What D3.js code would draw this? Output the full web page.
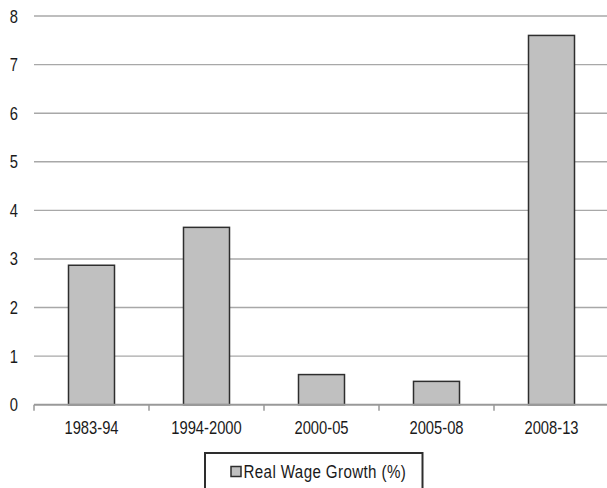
<!DOCTYPE html>
<html>
<head>
<meta charset="utf-8">
<script src="https://cdn.jsdelivr.net/npm/d3@7"></script>
<style>
  html, body { margin: 0; padding: 0; background: #fff; }
  svg { display: block; }
</style>
</head>
<body>
<svg id="chart" width="607" height="488"></svg>
<script>
const categories = ["1983-94", "1994-2000", "2000-05", "2005-08", "2008-13"];
const values = [2.87, 3.65, 0.62, 0.48, 7.6];
const yTicks = [0, 1, 2, 3, 4, 5, 6, 7, 8];
const seriesName = "Real Wage Growth (%)";

const svg = d3.select("#chart");

// Detect a narrow font; otherwise horizontally compress Liberation Sans
function textWidth(family) {
  const t = svg.append("text").attr("font-family", family).attr("font-size", 40).text("1983-94 Real Wage");
  const w = t.node().getComputedTextLength();
  t.remove();
  return w;
}
const hasNarrow = textWidth("'Liberation Sans Narrow', monospace") !== textWidth("monospace");
const FONT = hasNarrow ? "'Liberation Sans Narrow', 'Arial Narrow', sans-serif" : "'Liberation Sans', Arial, sans-serif";
const SX = hasNarrow ? 1 : 0.82;
const FS = 18;

const y = d3.scaleLinear().domain([0, 8]).range([404.7, 16]);
const x = d3.scaleBand().domain(categories).range([34, 609]).paddingInner(0.6).paddingOuter(0.3);

// gridlines
svg.append("g")
  .selectAll("line")
  .data(yTicks.filter(d => d > 0))
  .join("line")
  .attr("x1", 34).attr("x2", 607)
  .attr("y1", d => y(d)).attr("y2", d => y(d))
  .attr("stroke", "#a8a8a8").attr("stroke-width", 1.4);

// y labels
svg.append("g")
  .selectAll("text")
  .data(yTicks)
  .join("text")
  .attr("transform", d => `translate(18,${y(d)}) scale(${SX},1)`)
  .attr("text-anchor", "end")
  .attr("dominant-baseline", "central")
  .attr("font-family", FONT).attr("font-size", FS)
  .attr("fill", "#1a1a1a")
  .text(d => d);

// bars
svg.append("g")
  .selectAll("rect")
  .data(values)
  .join("rect")
  .attr("x", (d, i) => x(categories[i]))
  .attr("width", x.bandwidth())
  .attr("y", d => y(d))
  .attr("height", d => y(0) - y(d))
  .attr("fill", "#c0c0c0")
  .attr("stroke", "#2e2e2e")
  .attr("stroke-width", 1.5);

// x axis baseline
svg.append("line")
  .attr("x1", 34).attr("x2", 607)
  .attr("y1", y(0)).attr("y2", y(0))
  .attr("stroke", "#999").attr("stroke-width", 2);

// tick marks at band boundaries
const gap = (x.step() - x.bandwidth()) / 2;
svg.append("g")
  .selectAll("line")
  .data(categories)
  .join("line")
  .attr("x1", d => x(d) - gap).attr("x2", d => x(d) - gap)
  .attr("y1", y(0)).attr("y2", y(0) + 6)
  .attr("stroke", "#999").attr("stroke-width", 1.5);

// x labels
svg.append("g")
  .selectAll("text")
  .data(categories)
  .join("text")
  .attr("transform", d => `translate(${x(d) + x.bandwidth() / 2},434) scale(${SX},1)`)
  .attr("text-anchor", "middle")
  .attr("font-family", FONT).attr("font-size", FS)
  .attr("fill", "#1a1a1a")
  .text(d => d);

// legend
const lg = svg.append("g");
lg.append("rect")
  .attr("x", 205).attr("y", 453).attr("width", 217.5).attr("height", 50)
  .attr("fill", "#fff").attr("stroke", "#2e2e2e").attr("stroke-width", 2);
lg.append("rect")
  .attr("x", 231).attr("y", 466.5).attr("width", 10).attr("height", 10)
  .attr("fill", "#c0c0c0").attr("stroke", "#2e2e2e").attr("stroke-width", 1.5);
lg.append("text")
  .attr("transform", `translate(243.5,477.5) scale(${SX},1)`)
  .attr("font-family", FONT).attr("font-size", 18.5)
  .attr("letter-spacing", 0.45)
  .attr("fill", "#1a1a1a")
  .text(seriesName);
</script>
</body>
</html>
